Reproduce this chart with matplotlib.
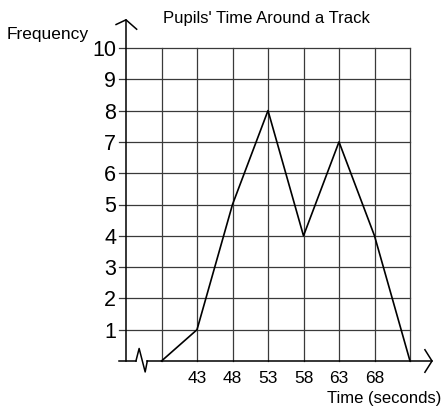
import numpy as np
import matplotlib
matplotlib.use('Agg')
import matplotlib.pyplot as plt

plt.rcParams['font.family'] = ['Liberation Sans', 'DejaVu Sans']

# data
times = [38, 43, 48, 53, 58, 63, 68, 73]
freqs = [0, 1, 5, 8, 4, 7, 4, 0]
x_ticks = [43, 48, 53, 58, 63, 68]
y_ticks = [1, 2, 3, 4, 5, 6, 7, 8, 9, 10]
grid_x = [38, 43, 48, 53, 58, 63, 68, 73]

x0, x1 = 33, 73
fig = plt.figure(figsize=(4.44, 4.09), dpi=100)
ax = fig.add_axes([126/444, 48/409, 284/444, 313/409])
ax.set_xlim(x0, x1); ax.set_ylim(0, 10)
for s in ax.spines.values():
    s.set_visible(False)

gc = '#3a3a3a'
for y in y_ticks:
    ax.plot([x0 - 1, x1], [y, y], color=gc, lw=0.9, clip_on=False)
for x in grid_x:
    ax.plot([x, x], [0, 10], color=gc, lw=0.9, clip_on=False)

# y axis with open arrow
ax.plot([x0, x0], [0, 10.9], color='black', lw=1.1, clip_on=False)
ax.plot([x0 - 1.4, x0, x0 + 1.5], [10.75, 10.9, 10.6], color='black', lw=1.1, clip_on=False)

# x axis with break and arrow
ax.plot([x0 - 1, x0 + 1.4], [0, 0], color='black', lw=1.1, clip_on=False)
ax.plot([x0 + 1.4, x0 + 1.85, x0 + 2.7, x0 + 3.0], [0, 0.4, -0.35, 0], color='black', lw=1.1, clip_on=False)
ax.plot([x0 + 3.0, x1 + 3.1], [0, 0], color='black', lw=1.1, clip_on=False)
ax.plot([x1 + 2.1, x1 + 3.1, x1 + 2.1], [0.36, 0, -0.36], color='black', lw=1.1, clip_on=False)

# frequency polygon
ax.plot(times, freqs, color='black', lw=1.2, clip_on=False)

ax.set_yticks(y_ticks)
ax.set_yticklabels([str(v) for v in y_ticks], fontsize=15.5)
ax.set_xticks(x_ticks)
ax.set_xticklabels([str(v) for v in x_ticks], fontsize=12.5)
ax.tick_params(axis='y', length=0, pad=7)
ax.tick_params(axis='x', length=0, pad=7)

fig.text(266/444, 1 - 18/409, "Pupils' Time Around a Track", ha='center', va='center', fontsize=12)
fig.text(7/444, 1 - 34/409, 'Frequency', ha='left', va='center', fontsize=12.5)
fig.text(441/444, 1 - 398/409, 'Time (seconds)', ha='right', va='center', fontsize=12)

fig.savefig('out.png', dpi=100)
